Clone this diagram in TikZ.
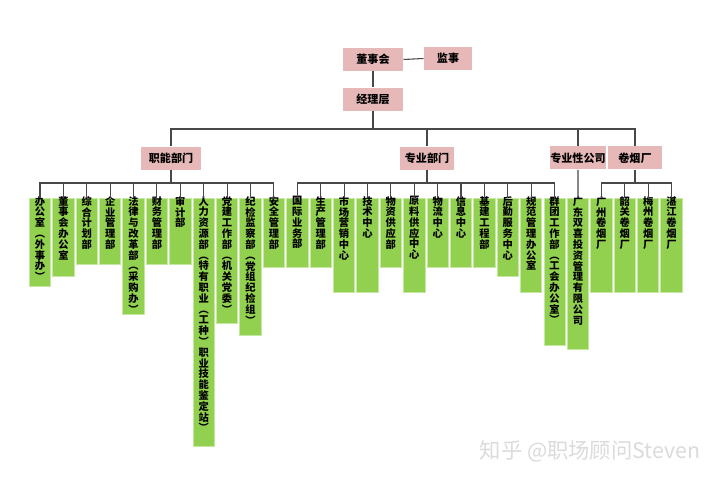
\documentclass[tikz,border=0pt]{standalone}
\usepackage{fontspec}
\newfontfamily\cjk{Noto Sans CJK SC}

\definecolor{pinkbox}{RGB}{230,184,183}
\definecolor{greenbox}{RGB}{146,208,80}
\definecolor{greenedge}{RGB}{196,232,160}
\definecolor{linegray}{RGB}{72,72,72}

% stack the characters of a label one under the other
\makeatletter
\newcommand\vtext[1]{\vbox{\baselineskip=8.1pt\@tfor\vch:=#1\do{\hbox to 9pt{\hss\vch\hss}}}}
\makeatother

\tikzset{every picture/.style={line width=0.75pt}}
\tikzset{
  pbox/.style={fill=pinkbox, minimum height=17.25pt, inner sep=0pt, font=\cjk\bfseries\fontsize{8.3}{9}\selectfont},
  gbox/.style={fill=greenbox, draw=greenedge, line width=0.6pt, minimum width=16pt, anchor=north, inner sep=0pt},
  vlbl/.style={anchor=north, inner sep=0pt, font=\cjk\bfseries\fontsize{7.7}{8}\selectfont},
  conn/.style={draw=linegray, line width=0.8pt}
}

\begin{document}
\begin{tikzpicture}[x=0.75pt,y=0.75pt,yscale=-1]

\fill [white] (0,0) rectangle (720,484);
\useasboundingbox (0,0) rectangle (720,484);

% top levels
\node [pbox, minimum width=45pt] (dsh) at (373,59.5) {董事会};
\node [pbox, minimum width=36pt] (js) at (448,58.5) {监事};
\node [pbox, minimum width=45pt] (jl) at (373,99.5) {经理层};
\node [pbox, minimum width=45pt] (znbm) at (171,158.5) {职能部门};
\node [pbox, minimum width=41pt] (zybm) at (427,158.5) {专业部门};
\node [pbox, minimum width=39pt] (zygs) at (578,158) {专业性公司};
\node [pbox, minimum width=40.5pt] (jyc) at (635,158) {卷烟厂};

% departments
\foreach \ylow/\lbl [count=\i from 0] in {
  286/办公室︵外事办︶, 276/董事会办公室, 264/综合计划部, 264/企业管理部,
  314/法律与改革部︵采购办︶, 264/财务管理部, 264/审计部,
  446/人力资源部︵特有职业︵工种︶职业技能鉴定站︶,
  323/党建工作部︵机关党委︶, 335/纪检监察部︵党组纪检组︶, 267/安全管理部,
  267/国际业务部, 267/生产管理部, 292/市场营销中心, 292/技术中心,
  267/物资供应部, 292/原料供应中心, 267/物流中心, 267/信息中心,
  267/基建工程部, 276/后勤服务中心, 292/规范管理办公室,
  345/群团工作部︵工会办公室︶, 349/广东双喜投资管理有限公司,
  292/广州卷烟厂, 292/韶关卷烟厂, 292/梅州卷烟厂, 292/湛江卷烟厂}
{
  \pgfmathsetmacro\xx{40+23.39*\i}
  \node [gbox, minimum height={(\ylow-198)*0.75pt}] (d\i) at (\xx,198) {};
  \node [vlbl] (t\i) at ([yshift=-1.6pt]d\i.north) {\expandafter\vtext\expandafter{\lbl}};
}

% connectors
\coordinate (bus) at (373,129);
\coordinate (znj) at (171,183);
\coordinate (zyj) at (427,183);
\coordinate (jycj) at (635,183);

\draw [conn] (dsh.east) -- (js.west);
\draw [conn] (dsh) -- (jl);
\draw [conn] (jl.south) -- (bus);
\draw [conn] (znbm.north) |- (bus);
\draw [conn] (zybm.north) |- (bus);
\draw [conn] (zygs.north) |- (bus);
\draw [conn] (jyc.north) |- (bus);

\draw [conn] (znbm.south) -- (znj);
\foreach \i in {0,...,10} \draw [conn] (d\i.north) |- (znj);
\draw [conn] (zybm.south) -- (zyj);
\foreach \i in {11,...,22} \draw [conn] (d\i.north) |- (zyj);
\draw [conn] (zygs.south) -- (d23.north);
\draw [conn] (jyc.south) -- (jycj);
\foreach \i in {24,...,27} \draw [conn] (d\i.north) |- (jycj);

\node [font=\cjk\fontsize{16}{16}\selectfont, text=black!14] (wm) at (590,451) {知乎 @职场顾问Steven};

\end{tikzpicture}
\end{document}
